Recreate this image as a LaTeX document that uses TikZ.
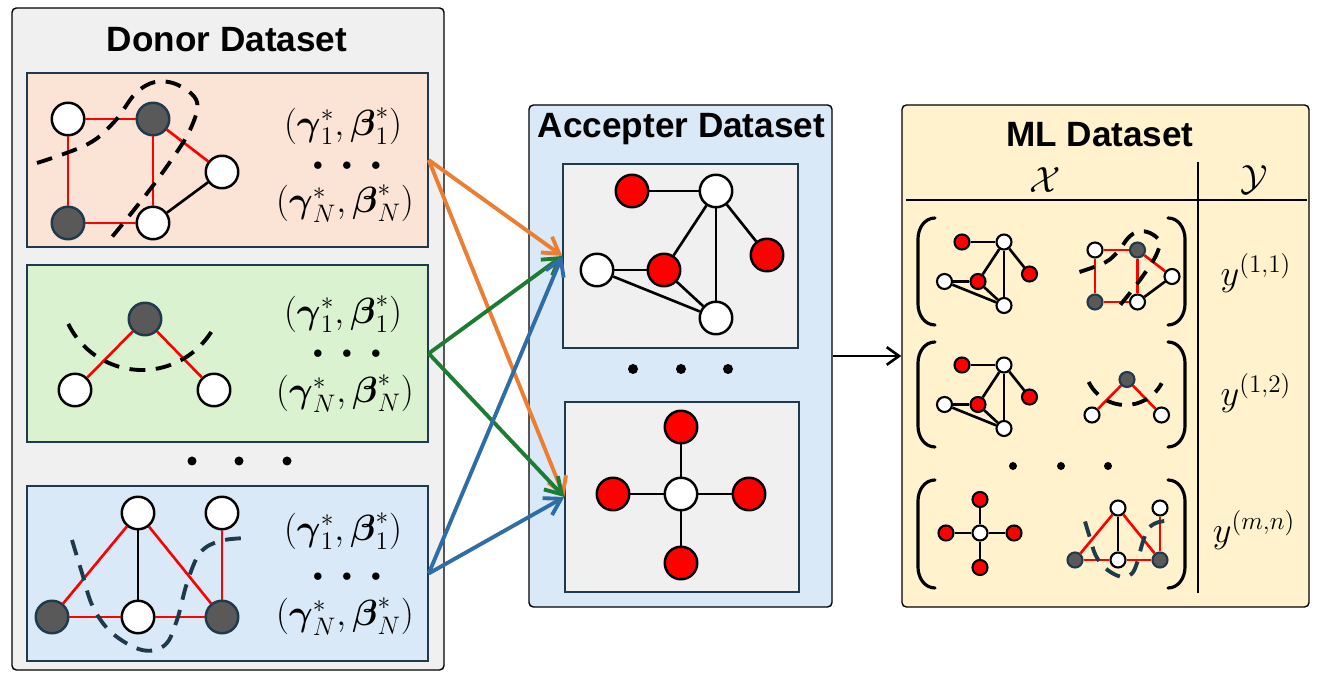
\documentclass[tikz,border=0pt]{standalone}
\usepackage{amsmath}
\usepackage{amssymb}
\usepackage{xcolor}
\usepackage{fontspec}
\usepackage{tikz}
\usetikzlibrary{arrows.meta}

\newfontfamily\headfont{Liberation Sans}

\definecolor{donorbg}{HTML}{F0F0F0}
\definecolor{panelgray}{HTML}{F0F0F0}
\definecolor{peach}{HTML}{FBE3D6}
\definecolor{mint}{HTML}{DAF2D0}
\definecolor{sky}{HTML}{DAE9F8}
\definecolor{cream}{HTML}{FFF2CC}
\definecolor{slate}{HTML}{1F3A4D}
\definecolor{nodegray}{HTML}{595959}
\definecolor{orangeflow}{HTML}{ED7D31}
\definecolor{greenflow}{HTML}{1E7B34}
\definecolor{blueflow}{HTML}{2E6DA5}

\tikzset{
  vtx/.style={circle, draw=black, line width=1.4pt, inner sep=0pt, minimum size=0.65cm},
  wv/.style={vtx, fill=white},
  gv/.style={vtx, fill=nodegray, draw=slate},
  rv/.style={vtx, fill=red},
  sm/.style={minimum size=0.30cm, line width=1.2pt},
  redge/.style={draw=red, line width=1.5pt},
  bedge/.style={draw=black, line width=1.5pt},
  cutline/.style={line width=2.2pt, dash pattern=on 9pt off 6pt},
  box/.style={draw=black, line width=0.8pt, rounded corners=2.5pt, inner sep=0pt},
  panel/.style={draw=slate, line width=0.8pt, inner sep=0pt},
  flow/.style={line width=2.2pt, -{Straight Barb[length=9pt,width=11pt]}},
  link/.style={line width=1.5pt, -{Straight Barb[length=7pt,width=10pt]}},
  brak/.style={line width=1.8pt, line cap=round},
  heading/.style={font=\fontsize{20}{24}\selectfont\headfont\bfseries, anchor=base},
  mth/.style={font=\fontsize{22}{26}\selectfont, inner sep=0pt},
  dots/.style={font=\fontsize{11}{13}\selectfont, inner sep=0pt, anchor=base},
}

\begin{document}
\begin{tikzpicture}
\useasboundingbox[fill=white] (0,0) rectangle (26.4,13.68);

\node[box, fill=donorbg, minimum width=8.64cm, minimum height=13.24cm] (donor) at (4.56,6.90) {};
\node[box, fill=sky, minimum width=6.06cm, minimum height=10.04cm] (accepter) at (13.61,6.56) {};
\node[box, fill=cream, minimum width=8.14cm, minimum height=10.04cm] (ml) at (22.11,6.56) {};

\node[heading] (donortitle) at (4.54,12.64) {Donor Dataset};
\node[heading] (acctitle) at (13.63,10.92) {Accepter Dataset};
\node[heading] (mltitle) at (22.00,10.74) {ML Dataset};

\node[panel, fill=peach, minimum width=8.02cm, minimum height=3.48cm] (donor1) at (4.55,10.48) {};
\node[panel, fill=mint, minimum width=8.02cm, minimum height=3.54cm] (donor2) at (4.55,6.61) {};
\node[panel, fill=sky, minimum width=8.02cm, minimum height=3.50cm] (donor3) at (4.55,2.21) {};
\node[panel, fill=panelgray, minimum width=4.70cm, minimum height=3.68cm] (acc1) at (13.61,8.56) {};
\node[panel, fill=panelgray, minimum width=4.68cm, minimum height=3.80cm] (acc2) at (13.64,3.74) {};

\node[wv] (d1a) at (1.36,11.30) {};
\node[gv] (d1b) at (3.06,11.30) {};
\node[wv] (d1c) at (4.44,10.24) {};
\node[gv] (d1d) at (1.36,9.22) {};
\node[wv] (d1e) at (3.06,9.22) {};

\draw[redge] (d1a) -- (d1b);
\draw[redge] (d1a) -- (d1d);
\draw[redge] (d1b) -- (d1e);
\draw[redge] (d1d) -- (d1e);
\draw[redge] (d1b) -- (d1c);
\draw[bedge] (d1e) -- (d1c);
\draw[cutline] plot[smooth, tension=0.6] coordinates {(0.74,10.42) (1.76,10.80) (2.30,11.26) (2.70,11.80) (3.10,12.04) (3.56,11.98) (3.94,11.64) (3.80,11.08) (3.40,10.44) (2.90,9.76) (2.24,8.94)};

\node[gv] (d2a) at (2.90,7.30) {};
\node[wv] (d2b) at (1.50,5.88) {};
\node[wv] (d2c) at (4.28,5.88) {};

\draw[redge] (d2a) -- (d2b);
\draw[redge] (d2a) -- (d2c);
\draw[cutline] (2.84,7.92) ++(206:1.64) arc[start angle=206, end angle=332, radius=1.64];

\node[wv] (d3a) at (2.76,3.42) {};
\node[wv] (d3b) at (4.44,3.42) {};
\node[gv] (d3c) at (1.04,1.34) {};
\node[wv] (d3d) at (2.76,1.34) {};
\node[gv] (d3e) at (4.44,1.34) {};

\draw[redge] (d3a) -- (d3c);
\draw[bedge] (d3a) -- (d3d);
\draw[redge] (d3a) -- (d3e);
\draw[redge] (d3c) -- (d3d);
\draw[redge] (d3d) -- (d3e);
\draw[redge] (d3e) -- (d3b);
\draw[cutline, slate] plot[smooth, tension=0.6] coordinates {(1.44,2.88) (1.64,2.22) (1.86,1.54) (2.24,1.02) (2.84,0.68) (3.30,0.78) (3.54,1.28) (3.74,2.02) (4.00,2.62) (4.40,2.86) (4.94,2.92)};

\node[mth] (p1a) at (6.86,11.16) {$(\boldsymbol{\gamma}_1^*,\boldsymbol{\beta}_1^*)$};
\node[dots] (p1b) at (6.94,10.26) {${\bullet}\hspace{1em}{\bullet}\hspace{1em}{\bullet}$};
\node[mth] (p1c) at (6.90,9.60) {$(\boldsymbol{\gamma}_N^*,\boldsymbol{\beta}_N^*)$};
\node[mth] (p2a) at (6.86,7.40) {$(\boldsymbol{\gamma}_1^*,\boldsymbol{\beta}_1^*)$};
\node[dots] (p2b) at (6.94,6.50) {${\bullet}\hspace{1em}{\bullet}\hspace{1em}{\bullet}$};
\node[mth] (p2c) at (6.90,5.80) {$(\boldsymbol{\gamma}_N^*,\boldsymbol{\beta}_N^*)$};
\node[mth] (p3a) at (6.86,3.06) {$(\boldsymbol{\gamma}_1^*,\boldsymbol{\beta}_1^*)$};
\node[dots] (p3b) at (6.94,2.04) {${\bullet}\hspace{1em}{\bullet}\hspace{1em}{\bullet}$};
\node[mth] (p3c) at (6.90,1.34) {$(\boldsymbol{\gamma}_N^*,\boldsymbol{\beta}_N^*)$};

\fill (3.84,4.46) circle (0.09);
\fill (4.78,4.46) circle (0.09);
\fill (5.74,4.46) circle (0.09);

\node[rv] (a1a) at (12.64,9.86) {};
\node[wv] (a1b) at (14.32,9.86) {};
\node[rv] (a1c) at (15.34,8.58) {};
\node[wv] (a1d) at (11.94,8.28) {};
\node[rv] (a1e) at (13.28,8.28) {};
\node[wv] (a1f) at (14.32,7.32) {};

\draw[bedge] (a1a) -- (a1b);
\draw[bedge] (a1b) -- (a1c);
\draw[bedge] (a1b) -- (a1f);
\draw[bedge] (a1b) -- (a1e);
\draw[bedge] (a1d) -- (a1e);
\draw[bedge] (a1d) -- (a1f);
\draw[bedge] (a1e) -- (a1f);

\node[wv] (a2a) at (13.62,3.80) {};
\node[rv] (a2b) at (13.62,5.14) {};
\node[rv] (a2c) at (12.26,3.80) {};
\node[rv] (a2d) at (14.98,3.80) {};
\node[rv] (a2e) at (13.62,2.42) {};

\draw[bedge] (a2a) -- (a2b);
\draw[bedge] (a2a) -- (a2c);
\draw[bedge] (a2a) -- (a2d);
\draw[bedge] (a2a) -- (a2e);

\fill (12.66,6.30) circle (0.10);
\fill (13.62,6.30) circle (0.10);
\fill (14.56,6.30) circle (0.10);

\draw[flow, orangeflow] (donor1.east) -- (acc1.west);
\draw[flow, orangeflow] (donor1.east) -- (acc2.west);
\draw[flow, greenflow] (donor2.east) -- (acc1.west);
\draw[flow, greenflow] (donor2.east) -- (acc2.west);
\draw[flow, blueflow] (donor3.east) -- (acc1.west);
\draw[flow, blueflow] (donor3.east) -- (acc2.west);
\draw[link] (accepter.east) -- (ml.west);

\draw[line width=1.3pt] (18.12,9.68) -- (26.14,9.68);
\draw[line width=1.3pt] (23.96,10.44) -- (23.96,1.82);
\node[mth] (xlab) at (20.90,10.08) {$\mathcal{X}$};
\node[mth] (ylab) at (25.08,10.08) {$\mathcal{Y}$};

\draw[brak] (18.70,9.32) to[out=180,in=90] (18.36,8.90) -- (18.36,7.60) to[out=-90,in=180] (18.70,7.18);
\draw[brak] (23.36,9.32) to[out=0,in=90] (23.70,8.90) -- (23.70,7.60) to[out=-90,in=0] (23.36,7.18);
\draw[brak] (18.70,6.84) to[out=180,in=90] (18.36,6.42) -- (18.36,5.16) to[out=-90,in=180] (18.70,4.74);
\draw[brak] (23.36,6.84) to[out=0,in=90] (23.70,6.42) -- (23.70,5.16) to[out=-90,in=0] (23.36,4.74);
\draw[brak] (18.70,4.08) to[out=180,in=90] (18.36,3.66) -- (18.36,2.34) to[out=-90,in=180] (18.70,1.92);
\draw[brak] (23.36,4.08) to[out=0,in=90] (23.70,3.66) -- (23.70,2.34) to[out=-90,in=0] (23.36,1.92);

\node[rv, sm] (m1a) at (19.24,8.84) {};
\node[wv, sm] (m1b) at (20.08,8.84) {};
\node[rv, sm] (m1c) at (20.59,8.20) {};
\node[wv, sm] (m1d) at (18.89,8.05) {};
\node[rv, sm] (m1e) at (19.56,8.05) {};
\node[wv, sm] (m1f) at (20.08,7.57) {};

\draw[bedge] (m1a) -- (m1b);
\draw[bedge] (m1b) -- (m1c);
\draw[bedge] (m1b) -- (m1f);
\draw[bedge] (m1b) -- (m1e);
\draw[bedge] (m1d) -- (m1e);
\draw[bedge] (m1d) -- (m1f);
\draw[bedge] (m1e) -- (m1f);

\node[wv, sm] (n1a) at (21.90,8.68) {};
\node[gv, sm] (n1b) at (22.75,8.68) {};
\node[wv, sm] (n1c) at (23.44,8.15) {};
\node[gv, sm] (n1d) at (21.90,7.64) {};
\node[wv, sm] (n1e) at (22.75,7.64) {};

\draw[redge] (n1a) -- (n1b);
\draw[redge] (n1a) -- (n1d);
\draw[redge] (n1b) -- (n1e);
\draw[redge] (n1d) -- (n1e);
\draw[redge] (n1b) -- (n1c);
\draw[bedge] (n1e) -- (n1c);
\begin{scope}[shift={(21.22,3.03)}, scale=0.5]
\draw[cutline] plot[smooth, tension=0.6] coordinates {(0.74,10.42) (1.76,10.80) (2.30,11.26) (2.70,11.80) (3.10,12.04) (3.56,11.98) (3.94,11.64) (3.80,11.08) (3.40,10.44) (2.90,9.76) (2.24,8.94)};
\end{scope}

\node[rv, sm] (m2a) at (19.24,6.38) {};
\node[wv, sm] (m2b) at (20.08,6.38) {};
\node[rv, sm] (m2c) at (20.59,5.74) {};
\node[wv, sm] (m2d) at (18.89,5.59) {};
\node[rv, sm] (m2e) at (19.56,5.59) {};
\node[wv, sm] (m2f) at (20.08,5.11) {};

\draw[bedge] (m2a) -- (m2b);
\draw[bedge] (m2b) -- (m2c);
\draw[bedge] (m2b) -- (m2f);
\draw[bedge] (m2b) -- (m2e);
\draw[bedge] (m2d) -- (m2e);
\draw[bedge] (m2d) -- (m2f);
\draw[bedge] (m2e) -- (m2f);

\node[gv, sm] (n2a) at (22.54,6.09) {};
\node[wv, sm] (n2b) at (21.84,5.38) {};
\node[wv, sm] (n2c) at (23.23,5.38) {};

\draw[redge] (n2a) -- (n2b);
\draw[redge] (n2a) -- (n2c);
\begin{scope}[shift={(21.09,2.44)}, scale=0.5]
\draw[cutline] (2.84,7.92) ++(206:1.64) arc[start angle=206, end angle=332, radius=1.64];
\end{scope}

\node[wv, sm] (m3a) at (19.60,3.02) {};
\node[rv, sm] (m3b) at (19.60,3.69) {};
\node[rv, sm] (m3c) at (18.92,3.02) {};
\node[rv, sm] (m3d) at (20.28,3.02) {};
\node[rv, sm] (m3e) at (19.60,2.33) {};

\draw[bedge] (m3a) -- (m3b);
\draw[bedge] (m3a) -- (m3c);
\draw[bedge] (m3a) -- (m3d);
\draw[bedge] (m3a) -- (m3e);

\node[wv, sm] (n3a) at (22.36,3.52) {};
\node[wv, sm] (n3b) at (23.20,3.52) {};
\node[gv, sm] (n3c) at (21.50,2.48) {};
\node[wv, sm] (n3d) at (22.36,2.48) {};
\node[gv, sm] (n3e) at (23.20,2.48) {};

\draw[redge] (n3a) -- (n3c);
\draw[bedge] (n3a) -- (n3d);
\draw[redge] (n3a) -- (n3e);
\draw[redge] (n3c) -- (n3d);
\draw[redge] (n3d) -- (n3e);
\draw[redge] (n3e) -- (n3b);
\begin{scope}[shift={(20.98,1.81)}, scale=0.5]
\draw[cutline, slate] plot[smooth, tension=0.6] coordinates {(1.44,2.88) (1.64,2.22) (1.86,1.54) (2.24,1.02) (2.84,0.68) (3.30,0.78) (3.54,1.28) (3.74,2.02) (4.00,2.62) (4.40,2.86) (4.94,2.92)};
\end{scope}

\fill (20.26,4.36) circle (0.08);
\fill (21.22,4.36) circle (0.08);
\fill (22.16,4.36) circle (0.08);

\node[mth, anchor=base] (y11) at (25.12,7.96) {$y^{(1,1)}$};
\node[mth, anchor=base] (y12) at (25.12,5.56) {$y^{(1,2)}$};
\node[mth, anchor=base] (ymn) at (25.08,2.82) {$y^{(m,n)}$};

\end{tikzpicture}
\end{document}
